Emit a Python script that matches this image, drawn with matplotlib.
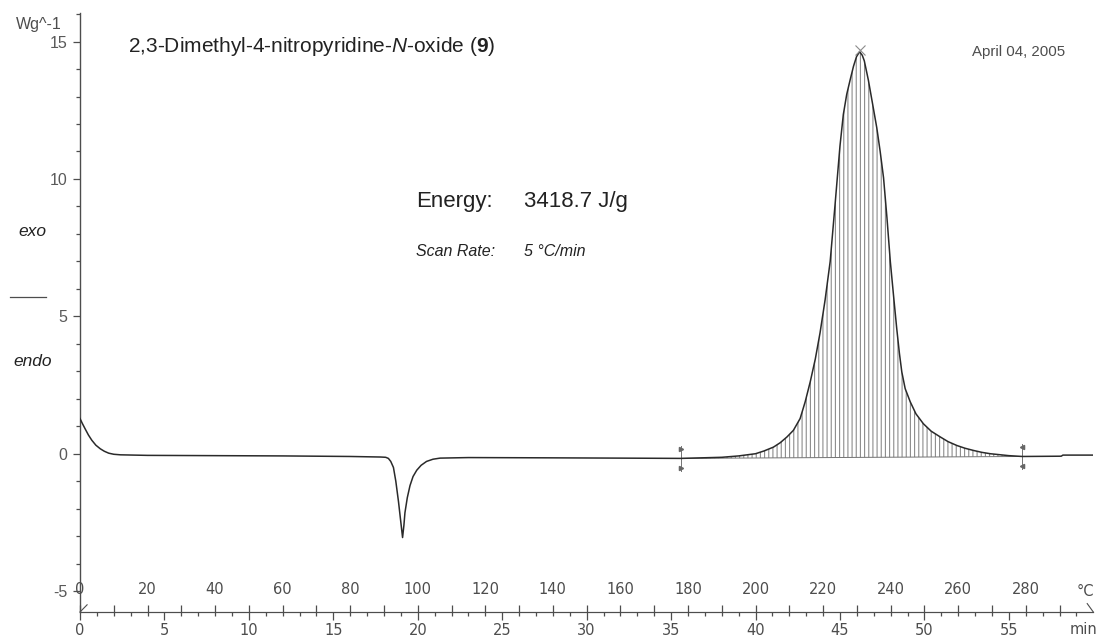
import matplotlib
matplotlib.use("Agg")
import matplotlib.pyplot as plt
from matplotlib.lines import Line2D
from matplotlib.ticker import FixedLocator
import numpy as np

plt.rcParams["font.family"] = ["Liberation Sans", "DejaVu Sans"]
plt.rcParams["mathtext.fontset"] = "custom"
plt.rcParams["mathtext.rm"] = "Liberation Sans"
plt.rcParams["mathtext.it"] = "Liberation Sans:italic"
plt.rcParams["mathtext.bf"] = "Liberation Sans:bold"
plt.rcParams["hatch.linewidth"] = 0.8
plt.rcParams["axes.unicode_minus"] = False

# DSC trace: temperature (°C) and heat flow (W/g)
temp_c = [0, 0.7, 1.5, 2.5, 3.5, 4.7, 6, 7.2, 8.5, 10, 12, 16, 20,
          40, 60, 80, 89, 90.5, 91.3, 92.0, 92.8, 93.5, 94.3, 94.9, 95.5,
          95.9, 96.2, 96.9, 97.7, 98.6, 99.7, 101, 102.6, 104.5, 106.6,
          115, 140, 160, 178, 190, 195, 200, 202.5, 205.3, 207.3, 209.3,
          211.2, 213.2, 214.7, 216.2, 217.7, 219.1, 220.6, 222.1, 223.5,
          225.0, 226.0, 227.0, 228.0, 229.0, 229.9, 230.8, 231.6, 232.2,
          233.4, 234.7, 235.9, 236.9, 237.9, 238.9, 239.9, 240.9, 241.8,
          242.6, 243.3, 244.3, 245.8, 247.5, 249.7, 252, 254.7, 257,
          259.6, 262, 264.5, 267, 269.5, 275, 279, 290.5, 291, 300]
heat_flow = [1.28, 1.1, 0.91, 0.68, 0.49, 0.31, 0.18, 0.09, 0.02, -0.02, -0.04, -0.05, -0.06,
             -0.07, -0.08, -0.10, -0.12, -0.13, -0.17, -0.28, -0.5, -1.0, -1.75, -2.4, -3.05,
             -2.6, -2.15, -1.6, -1.16, -0.83, -0.6, -0.42, -0.28, -0.2, -0.16,
             -0.14, -0.15, -0.16, -0.17, -0.13, -0.08, 0.0, 0.1, 0.24, 0.4, 0.61,
             0.85, 1.28, 1.89, 2.62, 3.45, 4.4, 5.6, 7.0, 9.0,
             11.2, 12.35, 13.08, 13.6, 14.1, 14.45, 14.63, 14.5, 14.3,
             13.6, 12.7, 11.86, 11.0, 10.04, 8.6, 7.0, 5.7, 4.56,
             3.65, 2.98, 2.37, 1.89, 1.45, 1.09, 0.82, 0.61, 0.44,
             0.30, 0.2, 0.12, 0.05, 0.0, -0.07, -0.10, -0.09, -0.05, -0.05]

limits_c = [178, 279]          # integration limits
limits_base = [-0.17, -0.10]   # baseline at the limits
temp_ticks = list(range(0, 281, 20))
temp_minor = list(range(0, 300, 10))
time_ticks = list(range(0, 56, 5))
time_minor = list(range(0, 60, 1))
y_ticks = [-5, 0, 5, 10, 15]
y_minor = list(range(-5, 17))
scan_rate = 5      # °C/min
energy = 3418.7    # J/g

W, H = 1096, 639
fig = plt.figure(figsize=(W / 100, H / 100), dpi=100)
ax = fig.add_axes([80 / W, 1 - 612 / H, 1013.3 / W, 599.3 / H])
ax.set_xlim(0, 300)
ax.set_ylim(-5.76, 16.05)

t = np.array(temp_c)
hf = np.array(heat_flow)
ax.plot(t, hf, color="#2a2a2a", lw=1.1, zorder=3)

# hatched area between the curve and the baseline
sel = (t >= limits_c[0]) & (t <= limits_c[1])
ts = np.concatenate([[limits_c[0]], t[sel], [limits_c[1]]])
hs = np.concatenate([[limits_base[0]], hf[sel], [limits_base[1]]])
base = np.interp(ts, limits_c, limits_base)
ax.fill_between(ts, base, hs, facecolor="none", edgecolor="0.55",
                linewidth=0, hatch="||||", zorder=2)
ax.plot(limits_c, limits_base, color="0.45", lw=0.7, zorder=2)

# limit marks
for lc, lb, mk in zip(limits_c, limits_base, [">", "<"]):
    ax.plot([lc, lc], [lb - 0.45, lb + 0.45], color="0.45", lw=0.7)
    ax.plot([lc, lc], [lb + 0.35, lb - 0.35], ls="none", marker=mk,
            ms=3, color="0.4")

# peak mark
ip = int(np.argmax(hf))
ax.plot(t[ip], hf[ip] + 0.05, marker="x", ms=7, mew=0.8, color="0.55",
        zorder=4)

for s in ["top", "right", "bottom"]:
    ax.spines[s].set_visible(False)
ax.spines["left"].set_color("0.3")
ax.spines["left"].set_linewidth(1.0)
ax.set_yticks(y_ticks)
ax.yaxis.set_minor_locator(FixedLocator(y_minor))
ax.tick_params(axis="y", which="major", length=5, width=0.9, color="0.3",
               labelsize=11.5, labelcolor="0.35", pad=4)
ax.tick_params(axis="y", which="minor", length=3, width=0.9, color="0.3")
ax.tick_params(axis="x", which="both", bottom=False, labelbottom=False)

# time axis (below the line)
time_ax = ax.secondary_xaxis(
    "bottom", functions=(lambda x: x / scan_rate, lambda m: m * scan_rate))
time_ax.set_xticks(time_ticks)
time_ax.xaxis.set_minor_locator(FixedLocator(time_minor))
time_ax.spines["bottom"].set_color("0.3")
time_ax.tick_params(which="major", length=5.5, width=0.9, color="0.3",
                    pad=2.5, labelsize=10.5, labelcolor="0.3")
time_ax.tick_params(which="minor", length=3, width=0.9, color="0.3")
for lab in time_ax.get_xticklabels():
    lab.set_fontfamily("DejaVu Sans")

# temperature axis (above the line)
temp_ax = ax.secondary_xaxis(0.0)
temp_ax.set_alignment("top")
temp_ax.set_xticks(temp_ticks)
temp_ax.xaxis.set_minor_locator(FixedLocator(temp_minor))
temp_ax.spines["top"].set_color("0.3")
temp_ax.tick_params(which="major", length=5, width=0.9, color="0.3",
                    pad=6, labelsize=10.5, labelcolor="0.3")
temp_ax.tick_params(which="minor", length=5, width=0.9, color="0.3")
for lab in temp_ax.get_xticklabels():
    lab.set_fontfamily("DejaVu Sans")

# small end marks of the x axis
ax.add_line(Line2D([0, 0.007], [0, 0.012], transform=ax.transAxes,
                   color="0.3", lw=0.8, clip_on=False))
ax.add_line(Line2D([0.994, 1.0], [0.014, 0.0], transform=ax.transAxes,
                   color="0.3", lw=0.8, clip_on=False))

# texts
fig.text(16 / W, 1 - 24 / H, "Wg^-1", fontsize=11.5, color="0.3", va="center")
fig.text(128 / W, 1 - 47 / H,
         r"2,3-Dimethyl-4-nitropyridine-$\mathit{N}$-oxide ($\mathbf{9}$)",
         fontsize=15, color="#222222", va="center")
fig.text(972 / W, 1 - 52 / H, "April 04, 2005", fontsize=10.8, color="0.3",
         va="center")
fig.text(416 / W, 1 - 201 / H, "Energy:", fontsize=16, color="#222222",
         va="center")
fig.text(524 / W, 1 - 201 / H, f"{energy} J/g", fontsize=16, color="#222222",
         va="center")
fig.text(416 / W, 1 - 252 / H, "Scan Rate:", fontsize=11.5, style="italic",
         color="#222222", va="center")
fig.text(524 / W, 1 - 252 / H, f"{scan_rate} °C/min", fontsize=11.5,
         style="italic", color="#222222", va="center")
fig.text(18 / W, 1 - 231 / H, "exo", fontsize=12.5, style="italic",
         color="#222222", va="center")
fig.add_artist(Line2D([10 / W, 46 / W], [1 - 297 / H, 1 - 297 / H],
                      color="0.3", lw=0.9))
fig.text(13 / W, 1 - 361 / H, "endo", fontsize=12.5, style="italic",
         color="#222222", va="center")
fig.text(1077 / W, 1 - 591 / H, "°C", fontsize=10.5, color="0.3",
         family="DejaVu Sans", va="center")
fig.text(1070 / W, 1 - 629 / H, "min", fontsize=10.5, color="0.3",
         family="DejaVu Sans", va="center")

fig.savefig("out.png", dpi=100)
